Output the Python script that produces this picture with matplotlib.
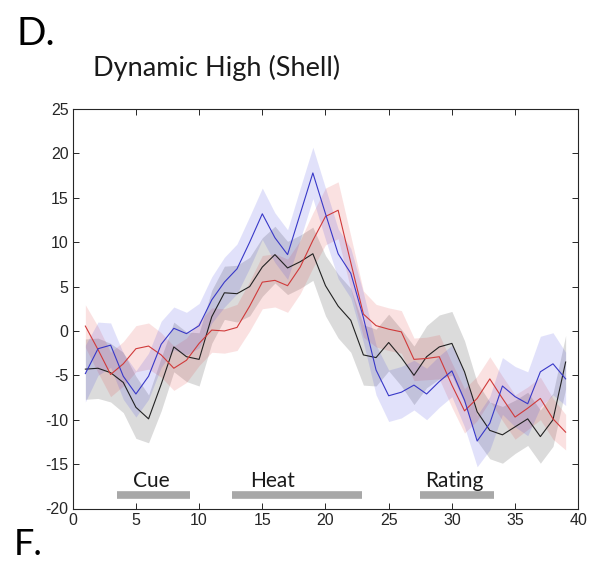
import numpy as np
import matplotlib
matplotlib.use("Agg")
import matplotlib.pyplot as plt

plt.rcParams['axes.unicode_minus'] = False

# ---- data ----
t = np.arange(1, 40)
blue = [-4.8, -2.0, -1.6, -5.1, -7.1, -5.1, -1.5, 0.3, -0.3, 0.6,
        3.5, 5.5, 7.0, 10.0, 13.2, 10.5, 8.6, 13.2, 17.8, 13.2,
        8.7, 6.5, 1.5, -4.4, -7.3, -6.9, -6.1, -7.1, -5.7, -4.5,
        -7.8, -12.4, -10.4, -6.2, -7.4, -8.2, -4.6, -3.7, -5.4]
black = [-4.3, -4.2, -4.7, -5.8, -8.6, -9.9, -6.0, -1.8, -2.9, -3.2,
         1.6, 4.3, 4.2, 5.0, 7.2, 8.6, 7.1, 7.8, 8.7, 5.1,
         2.8, 1.2, -2.7, -3.0, -1.3, -3.0, -5.0, -2.9, -1.8, -1.4,
         -4.6, -9.1, -11.2, -11.7, -10.8, -9.9, -11.9, -10.0, -3.5]
red = [0.55, -2.1, -4.9, -3.7, -2.0, -1.7, -2.7, -4.2, -3.3, -1.4,
       0.1, 0.0, 0.4, 2.8, 5.5, 5.7, 5.1, 7.2, 10.2, 12.9,
       13.6, 7.7, 1.9, 0.6, 0.2, -0.1, -3.2, -3.1, -2.9, -6.1,
       -9.0, -7.6, -5.4, -7.6, -9.7, -8.7, -7.6, -9.9, -11.4]
blue_sem = [3.2, 3.0, 2.5, 2.6, 2.6, 2.6, 2.6, 2.4, 2.4, 2.5,
            2.6, 2.8, 2.8, 2.9, 2.9, 2.8, 2.8, 2.9, 2.9, 2.9,
            2.8, 2.8, 2.8, 2.8, 2.9, 2.9, 2.8, 2.9, 2.9, 2.9,
            3.0, 2.9, 3.0, 3.2, 3.4, 3.6, 4.0, 3.5, 3.0]
black_sem = [3.4, 3.4, 3.3, 3.4, 3.5, 2.7, 3.0, 2.8, 2.8, 3.0,
             3.0, 3.0, 3.2, 3.3, 3.3, 3.2, 3.0, 3.0, 3.0, 3.4,
             3.6, 3.6, 3.4, 3.2, 3.2, 3.2, 3.3, 3.5, 3.6, 3.6,
             3.5, 3.3, 3.2, 3.2, 3.0, 3.0, 3.0, 3.0, 3.0]
red_sem = [2.4, 2.6, 2.5, 2.5, 2.6, 2.6, 2.5, 2.5, 2.5, 2.5,
           2.5, 2.5, 2.6, 2.8, 3.0, 3.0, 3.0, 3.0, 3.1, 3.2,
           3.2, 3.0, 2.6, 2.4, 2.4, 2.4, 2.4, 2.4, 2.5, 2.5,
           2.5, 2.5, 2.5, 2.5, 2.5, 2.4, 2.4, 2.3, 2.0]

events = ["Cue", "Heat", "Rating"]
event_start = [3.5, 12.6, 27.5]
event_end = [9.3, 22.9, 33.3]
event_label_x = [6.2, 15.8, 30.2]

xticks = list(range(0, 41, 5))
yticks = list(range(-20, 26, 5))

# ---- figure ----
fig = plt.figure(figsize=(5.99, 5.65), dpi=100)
ax = fig.add_axes([0.1214, 0.100, 0.844, 0.707])

series = [(black, black_sem, '#222222', '#000000'),
          (red, red_sem, '#d03a3a', '#e03030'),
          (blue, blue_sem, '#3838c8', '#3030e0')]
for y, s, lc, fc in series:
    y = np.array(y); s = np.array(s)
    ax.fill_between(t, y - s, y + s, color=fc, alpha=0.14, linewidth=0)
for y, s, lc, fc in series:
    ax.plot(t, y, color=lc, linewidth=0.8)

for name, s0, s1, lx in zip(events, event_start, event_end, event_label_x):
    ax.plot([s0, s1], [-18.5, -18.5], color='#a8a8a8', linewidth=5.5,
            solid_capstyle='butt')
    ax.text(lx, -17.6, name, ha='center', va='baseline', fontsize=15,
            family='Lato', color='#1a1a1a')

ax.set_xlim(0, 40)
ax.set_ylim(-20, 25)
ax.set_xticks(xticks)
ax.set_yticks(yticks)
ax.tick_params(direction='in', length=4, width=0.7, top=True, right=True,
               labelsize=11.5, colors='#262626', pad=3)
for lab in ax.get_xticklabels() + ax.get_yticklabels():
    lab.set_family('Liberation Sans')
for sp in ax.spines.values():
    sp.set_color('#262626')
    sp.set_linewidth(0.8)

fig.text(93 / 599, 1 - 76 / 565, "Dynamic High (Shell)", fontsize=19.5,
         family='Lato', color='#1a1a1a', ha='left', va='baseline')
fig.text(16 / 599, 1 - 45 / 565, "D.", fontsize=28, family='Lato',
         color='#000000', ha='left', va='baseline')
fig.text(14 / 599, 1 - 555 / 565, "F.", fontsize=26, family='Lato',
         color='#000000', ha='left', va='baseline')

fig.savefig("out.png", dpi=100)
